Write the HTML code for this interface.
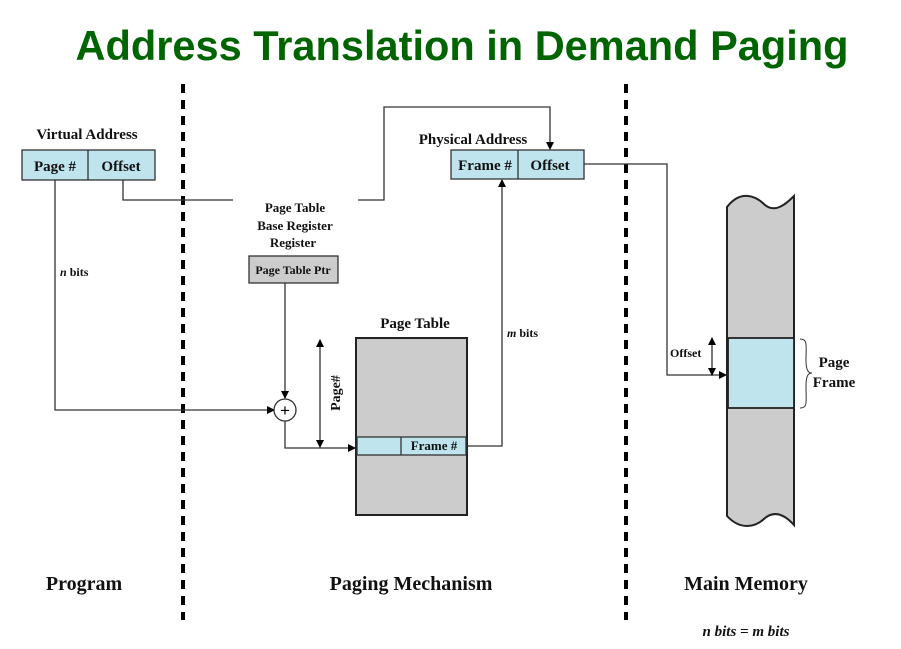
<!DOCTYPE html>
<html><head><meta charset="utf-8"><style>
html,body{margin:0;padding:0;background:#fff;}
svg{display:block;}
.t{font-family:"Liberation Serif",serif;font-weight:bold;fill:#111;}
</style></head><body>
<svg width="901" height="649" viewBox="0 0 901 649" xmlns="http://www.w3.org/2000/svg">
<defs>
<marker id="a" markerWidth="8" markerHeight="8" refX="7" refY="4" orient="auto" markerUnits="userSpaceOnUse"><path d="M0,0 L8,4 L0,8 z" fill="#000"/></marker>
<marker id="as" markerWidth="8" markerHeight="8" refX="1" refY="4" orient="auto" markerUnits="userSpaceOnUse"><path d="M8,0 L0,4 L8,8 z" fill="#000"/></marker>
</defs>
<text x="462" y="60" text-anchor="middle" font-family="'Liberation Sans Narrow','Liberation Sans',sans-serif" font-weight="bold" font-size="42" fill="#006400" textLength="773" lengthAdjust="spacingAndGlyphs">Address Translation in Demand Paging</text>
<line x1="183" y1="84" x2="183" y2="620" stroke="#000" stroke-width="4" stroke-dasharray="9,7"/>
<line x1="626" y1="84" x2="626" y2="620" stroke="#000" stroke-width="4" stroke-dasharray="9,7"/>
<g fill="none" stroke="#333" stroke-width="1.3">
<polyline points="55,180 55,410 274,410" marker-end="url(#a)"/>
<polyline points="123,180 123,200 233,200"/>
<polyline points="358,200 384,200 384,107 550,107 550,149" marker-end="url(#a)"/>
<polyline points="584,164 667,164 667,375 726,375" marker-end="url(#a)"/>
<polyline points="285,283 285,398" marker-end="url(#a)"/>
<polyline points="285,421 285,448 355,448" marker-end="url(#a)"/>
<polyline points="467,446 502,446 502,180" marker-end="url(#a)"/>
<line x1="320" y1="340" x2="320" y2="447" marker-start="url(#as)" marker-end="url(#a)"/>
<line x1="712" y1="338" x2="712" y2="375" marker-start="url(#as)" marker-end="url(#a)"/>
</g>
<rect x="22" y="150" width="133" height="30" fill="#bfe4ee" stroke="#333" stroke-width="1.3"/>
<line x1="88" y1="150" x2="88" y2="180" stroke="#333" stroke-width="1.3"/>
<text class="t" x="87" y="139" font-size="15" text-anchor="middle">Virtual Address</text>
<text class="t" x="55" y="171" font-size="15" text-anchor="middle">Page #</text>
<text class="t" x="121" y="171" font-size="15" text-anchor="middle">Offset</text>
<rect x="451" y="150" width="133" height="29" fill="#bfe4ee" stroke="#333" stroke-width="1.3"/>
<line x1="518" y1="150" x2="518" y2="179" stroke="#333" stroke-width="1.3"/>
<text class="t" x="473" y="144" font-size="15" text-anchor="middle">Physical Address</text>
<text class="t" x="485" y="170" font-size="15" text-anchor="middle">Frame #</text>
<text class="t" x="550" y="170" font-size="15" text-anchor="middle">Offset</text>
<text class="t" x="295" y="212" font-size="13" text-anchor="middle">Page Table</text>
<text class="t" x="295" y="230" font-size="13" text-anchor="middle">Base Register</text>
<text class="t" x="293" y="247" font-size="13" text-anchor="middle">Register</text>
<rect x="249" y="256" width="89" height="27" fill="#ccc" stroke="#333" stroke-width="1.3"/>
<text class="t" x="293" y="274" font-size="12" text-anchor="middle">Page Table Ptr</text>
<text class="t" x="60" y="276" font-size="12"><tspan font-style="italic">n</tspan> bits</text>
<text class="t" x="507" y="337" font-size="12"><tspan font-style="italic">m</tspan> bits</text>
<circle cx="285" cy="410" r="11" fill="#fff" stroke="#333" stroke-width="1.3"/>
<text x="285" y="416" font-family="'Liberation Sans',sans-serif" font-size="17" text-anchor="middle" fill="#000">+</text>
<text class="t" x="415" y="328" font-size="15" text-anchor="middle">Page Table</text>
<rect x="356" y="338" width="111" height="177" fill="#ccc" stroke="#222" stroke-width="2"/>
<rect x="357" y="437" width="109" height="18" fill="#bfe4ee" stroke="#333" stroke-width="1.3"/>
<line x1="401" y1="437" x2="401" y2="455" stroke="#333" stroke-width="1.3"/>
<text class="t" x="434" y="450" font-size="13" text-anchor="middle">Frame #</text>
<text class="t" x="0" y="0" font-size="14" text-anchor="middle" transform="translate(340,393) rotate(-90)">Page#</text>
<path d="M727,207 C740,190 755,195 765,205 C775,213 785,205 794,196 L794,525 C785,515 775,510 765,518 C755,528 740,530 727,516 Z" fill="#ccc" stroke="#222" stroke-width="2"/>
<rect x="728" y="338" width="66" height="70" fill="#bfe4ee" stroke="#222" stroke-width="1.8"/>
<text class="t" x="670" y="357" font-size="12">Offset</text>
<path d="M800,339 C808,339 806,345 806,360 C806,370 808,373 812,373 C808,373 806,376 806,386 C806,402 808,408 800,408" fill="none" stroke="#333" stroke-width="1"/>
<text class="t" x="834" y="367" font-size="15" text-anchor="middle">Page</text>
<text class="t" x="834" y="387" font-size="15" text-anchor="middle">Frame</text>
<text class="t" x="84" y="590" font-size="20" text-anchor="middle">Program</text>
<text class="t" x="411" y="590" font-size="20" text-anchor="middle">Paging Mechanism</text>
<text class="t" x="746" y="590" font-size="20" text-anchor="middle">Main Memory</text>
<text class="t" x="746" y="636" font-size="15" font-style="italic" text-anchor="middle">n bits = m bits</text>
</svg>
</body></html>
